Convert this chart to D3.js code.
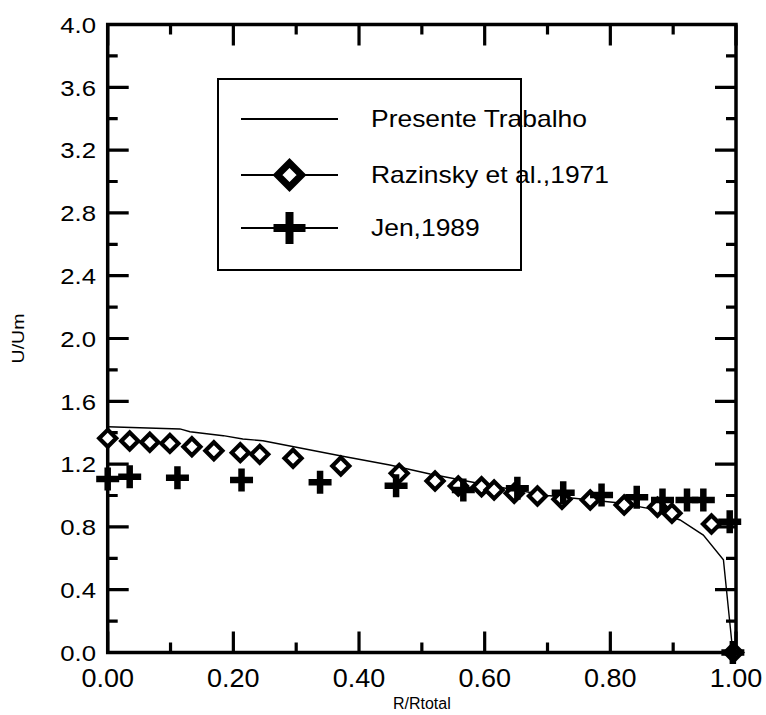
<!DOCTYPE html>
<html>
<head>
<meta charset="utf-8">
<script src="https://cdn.jsdelivr.net/npm/d3@7"></script>
<style>
  html, body { margin: 0; padding: 0; background: #fff; }
  svg { display: block; font-family: "Liberation Sans", Arial, Helvetica, sans-serif; }
</style>
</head>
<body>
<svg id="chart" width="766" height="715"></svg>
<script>
// Velocity profile U/Um versus R/Rtotal

// Presente Trabalho (continuous curve)
const presenteR = [0.0, 0.115, 0.131, 0.184, 0.215, 0.247, 0.29, 0.374, 0.449, 0.513, 0.604, 0.70, 0.815, 0.858, 0.911, 0.948, 0.980, 0.995];
const presenteU = [1.438, 1.424, 1.406, 1.381, 1.36, 1.349, 1.315, 1.25, 1.194, 1.137, 1.067, 1.0, 0.952, 0.92, 0.844, 0.748, 0.59, 0.0];

// Razinsky et al., 1971 (diamonds)
const razinskyR = [0.0, 0.035, 0.067, 0.099, 0.134, 0.169, 0.211, 0.242, 0.295, 0.371, 0.464, 0.521, 0.558, 0.595, 0.615, 0.647, 0.684, 0.723, 0.768, 0.822, 0.875, 0.898, 0.961, 0.996];
const razinskyU = [1.364, 1.347, 1.339, 1.332, 1.311, 1.285, 1.273, 1.262, 1.237, 1.188, 1.141, 1.092, 1.060, 1.056, 1.035, 1.014, 0.997, 0.976, 0.971, 0.939, 0.925, 0.887, 0.818, 0.0];

// Jen, 1989 (crosses)
const jenR = [0.0, 0.035, 0.111, 0.213, 0.338, 0.459, 0.566, 0.652, 0.725, 0.786, 0.842, 0.883, 0.922, 0.948, 0.99, 0.995];
const jenU = [1.105, 1.12, 1.113, 1.099, 1.084, 1.062, 1.035, 1.046, 1.018, 1.003, 0.989, 0.971, 0.971, 0.971, 0.833, 0.0];

// Axis ticks
const xMajor = [0, 0.2, 0.4, 0.6, 0.8, 1.0];
const xMinor = [0.1, 0.3, 0.5, 0.7, 0.9];
const yMajor = [0, 0.4, 0.8, 1.2, 1.6, 2.0, 2.4, 2.8, 3.2, 3.6, 4.0];
const yMinor = [0.2, 0.6, 1.0, 1.4, 1.8, 2.2, 2.6, 3.0, 3.4, 3.8];

const legendLabels = ["Presente Trabalho", "Razinsky et al.,1971", "Jen,1989"];

const svg = d3.select("#chart");
const plotLeft = 107.7, plotRight = 736, plotTop = 24.5, plotBottom = 652.5;

const x = d3.scaleLinear().domain([0, 1]).range([plotLeft, plotRight]);
const y = d3.scaleLinear().domain([0, 4]).range([plotBottom, plotTop]);

const MAJ = 21, MIN = 10;

// frame
svg.append("rect")
  .attr("x", plotLeft).attr("y", plotTop)
  .attr("width", plotRight - plotLeft).attr("height", plotBottom - plotTop)
  .attr("fill", "none").attr("stroke", "#000").attr("stroke-width", 3.5);

// tick marks on all four sides, pointing inward (one path)
const tp = d3.path();
function addXTicks(vals, len) {
  vals.forEach(v => {
    tp.moveTo(x(v), plotBottom); tp.lineTo(x(v), plotBottom - len);
    tp.moveTo(x(v), plotTop);    tp.lineTo(x(v), plotTop + len);
  });
}
function addYTicks(vals, len) {
  vals.forEach(v => {
    tp.moveTo(plotLeft, y(v));  tp.lineTo(plotLeft + len, y(v));
    tp.moveTo(plotRight, y(v)); tp.lineTo(plotRight - len, y(v));
  });
}
addXTicks(xMajor, MAJ); addXTicks(xMinor, MIN);
addYTicks(yMajor, MAJ); addYTicks(yMinor, MIN);
svg.append("path").attr("d", tp.toString())
  .attr("fill", "none").attr("stroke", "#000").attr("stroke-width", 3.2);

// tick labels (slightly wide lettering)
const fmtX = d3.format(".2f"), fmtY = d3.format(".1f");
svg.append("g").selectAll("text").data(xMajor).join("text")
  .attr("transform", d => `translate(${x(d)},687) scale(1.08,1)`)
  .attr("text-anchor", "middle").attr("font-size", 25).text(fmtX);
svg.append("g").selectAll("text").data(yMajor).join("text")
  .attr("transform", d => `translate(96,${y(d)}) scale(1.12,1)`)
  .attr("dy", "0.36em")
  .attr("text-anchor", "end").attr("font-size", 23).text(fmtY);

// axis titles
svg.append("text")
  .attr("x", (plotLeft + plotRight) / 2).attr("y", 709)
  .attr("text-anchor", "middle").attr("font-size", 16).text("R/Rtotal");
svg.append("text")
  .attr("transform", `translate(24,${(plotTop + plotBottom) / 2}) rotate(-90) scale(1.15,1)`)
  .attr("text-anchor", "middle").attr("font-size", 17).text("U/Um");

// markers
function diamondPath(cx, cy, r) {
  return `M${cx},${cy - r}L${cx + r},${cy}L${cx},${cy + r}L${cx - r},${cy}Z`;
}
function drawDiamond(g, cx, cy, r, sw) {
  g.append("path").attr("d", diamondPath(cx, cy, r))
    .attr("fill", "#fff").attr("stroke", "#000").attr("stroke-width", sw)
    .attr("stroke-linejoin", "miter");
}
function drawCross(g, cx, cy, half, sw) {
  g.append("path")
    .attr("d", `M${cx - half},${cy}H${cx + half}M${cx},${cy - half}V${cy + half}`)
    .attr("stroke", "#000").attr("stroke-width", sw).attr("fill", "none");
}

// Presente Trabalho curve
const line = d3.line().x(d => x(d[0])).y(d => y(d[1]));
svg.append("path")
  .datum(d3.zip(presenteR, presenteU))
  .attr("d", line)
  .attr("fill", "none").attr("stroke", "#000").attr("stroke-width", 1.4);

// Razinsky diamonds
const gD = svg.append("g");
d3.zip(razinskyR, razinskyU).forEach(([r, u]) => drawDiamond(gD, x(r), y(u), 8.5, 4.2));

// Jen crosses
const gC = svg.append("g");
d3.zip(jenR, jenU).forEach(([r, u]) => drawCross(gC, x(r), y(u), 11.5, 6.5));

// legend
const lg = svg.append("g");
lg.append("rect").attr("x", 218).attr("y", 79).attr("width", 303).attr("height", 191)
  .attr("fill", "#fff").attr("stroke", "#000").attr("stroke-width", 2);
const rows = [119, 175, 228];
rows.forEach((yy, i) => {
  lg.append("line").attr("x1", 241).attr("x2", 338).attr("y1", yy).attr("y2", yy)
    .attr("stroke", "#000").attr("stroke-width", 2);
  if (i === 1) drawDiamond(lg, 289.5, yy, 12, 7);
  if (i === 2) drawCross(lg, 289.5, yy, 16, 8);
  lg.append("text").attr("transform", `translate(371,${yy}) scale(1.15,1)`).attr("dy", "0.36em")
    .attr("font-size", 23).text(legendLabels[i]);
});
</script>
</body>
</html>
